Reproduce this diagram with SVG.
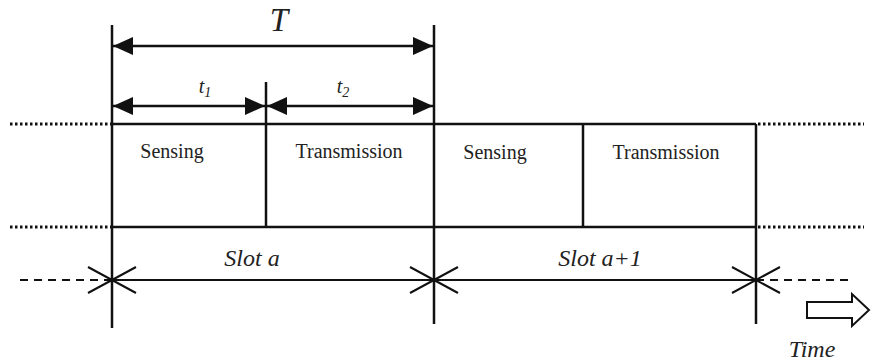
<svg xmlns="http://www.w3.org/2000/svg" width="872" height="364" viewBox="0 0 872 364">
<style>
.ln{stroke:#111;stroke-width:2.5;fill:none}
.thin{stroke:#111;stroke-width:2;fill:none}
.dot{stroke:#111;stroke-width:3;stroke-dasharray:2.5 2.5;fill:none}
.dash{stroke:#111;stroke-width:2;stroke-dasharray:8 6;fill:none}
.lbl{font-family:"Liberation Serif",serif;font-size:20px;fill:#222;text-anchor:middle}
.it{font-family:"Liberation Serif",serif;font-style:italic;fill:#222;text-anchor:middle}
</style>
<defs>
<marker id="ah" viewBox="0 0 20 18" refX="20" refY="9" markerWidth="20" markerHeight="18" markerUnits="userSpaceOnUse" orient="auto-start-reverse">
<path d="M0,0 L20,9 L0,18 Z" fill="#111"/>
</marker>
</defs>
<g id="frame">
<line class="ln" x1="112" y1="124" x2="756" y2="124"/>
<line class="ln" x1="112" y1="227" x2="756" y2="227"/>
<line class="dot" x1="10" y1="124" x2="112" y2="124"/>
<line class="dot" x1="10" y1="227" x2="112" y2="227"/>
<line class="dot" x1="758" y1="124" x2="864" y2="124"/>
<line class="dot" x1="758" y1="227" x2="864" y2="227"/>
<line class="ln" x1="112" y1="25" x2="112" y2="328"/>
<line class="ln" x1="434" y1="25" x2="434" y2="324"/>
<line class="ln" x1="756" y1="124" x2="756" y2="324"/>
<line class="ln" x1="266" y1="82" x2="266" y2="227"/>
<line class="ln" x1="583" y1="124" x2="583" y2="227"/>
</g>
<g id="sensing-a"><text class="lbl" x="172" y="158">Sensing</text></g>
<g id="transmission-a"><text class="lbl" x="349" y="158">Transmission</text></g>
<g id="sensing-b"><text class="lbl" x="495" y="159">Sensing</text></g>
<g id="transmission-b"><text class="lbl" x="666" y="159">Transmission</text></g>
<g id="connectors">
<line class="ln" x1="113" y1="46" x2="433" y2="46" marker-start="url(#ah)" marker-end="url(#ah)"/>
<line class="ln" x1="113" y1="106" x2="265" y2="106" marker-start="url(#ah)" marker-end="url(#ah)"/>
<line class="ln" x1="267" y1="106" x2="433" y2="106" marker-start="url(#ah)" marker-end="url(#ah)"/>
<line class="thin" x1="112" y1="280" x2="756" y2="280"/>
<line class="dash" x1="20" y1="280" x2="112" y2="280"/>
<line class="dash" x1="756" y1="280" x2="850" y2="280"/>
<path class="thin" d="M88,267 L136,293 M88,293 L136,267 M410,267 L458,293 M410,293 L458,267 M732,267 L780,293 M732,293 L780,267"/>
<path d="M807,302 L852,302 L852,294 L869,310 L852,326 L852,318 L807,318 Z" fill="#fff" stroke="#111" stroke-width="2"/>
</g>
<g id="labels">
<text class="it" x="279" y="31" font-size="33">T</text>
<text class="it" x="205" y="93" font-size="20">t<tspan font-size="14" dy="4">1</tspan></text>
<text class="it" x="343" y="93" font-size="20">t<tspan font-size="14" dy="4">2</tspan></text>
<text class="it" x="252" y="266" font-size="24">Slot a</text>
<text class="it" x="600" y="266" font-size="24">Slot a+1</text>
<text class="it" x="812" y="357" font-size="24">Time</text>
</g>
</svg>
